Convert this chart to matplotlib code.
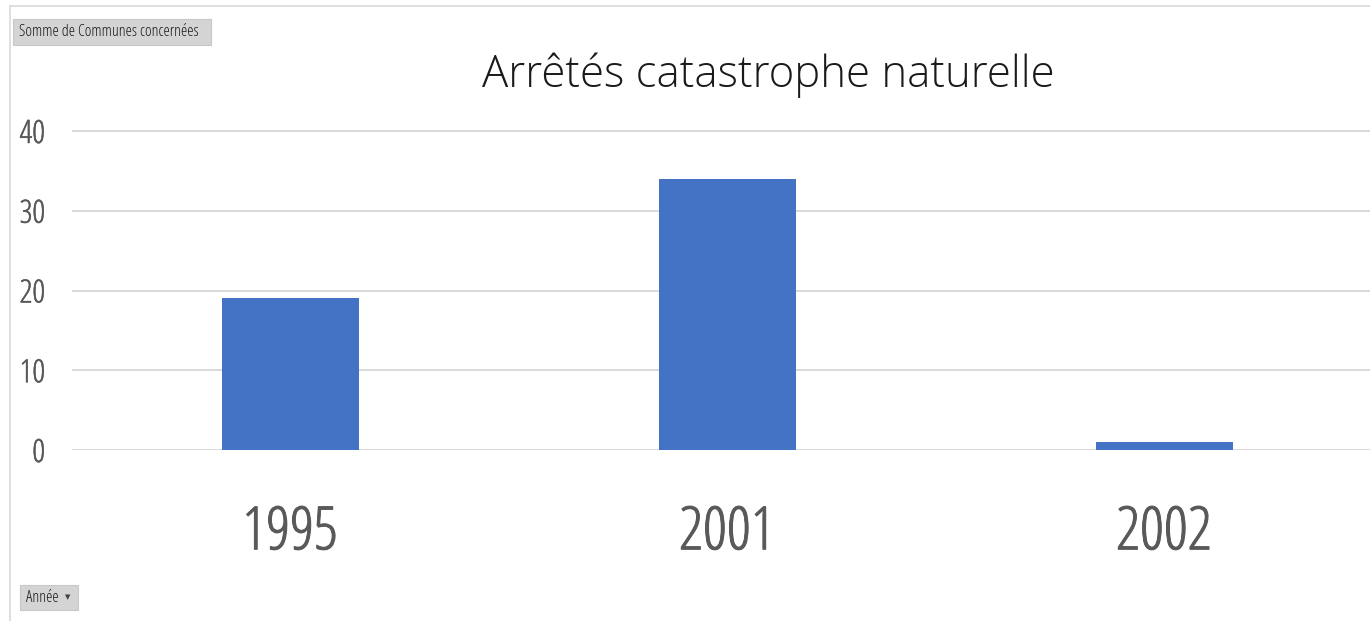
import matplotlib.pyplot as plt
import matplotlib.patheffects as pe
from matplotlib.patches import FancyBboxPatch
from matplotlib.lines import Line2D
import numpy as np

# données
annees = ['1995', '2001', '2002']
communes = [19, 34, 1]
yticks = [0, 10, 20, 30, 40]

W, H = 1370, 621
fig = plt.figure(figsize=(W / 100, H / 100), dpi=100)

# police étroite (Calibri compressé dans l'original)
narrow = dict(family=['Open Sans', 'DejaVu Sans'], fontstretch='condensed', fontweight='light')

# axes placées au pixel près
x0 = 71.5
cat = 437.0
y_zero, y_40 = 450, 131
ymax = 40.4
h_px = (y_zero - y_40) * ymax / 40
ax = fig.add_axes([x0 / W, (H - y_zero) / H, 1 - x0 / W, h_px / H])

x = np.arange(len(annees))
ax.bar(x, communes, width=137 / cat, color='#4472C4', zorder=3)
ax.set_xlim(-0.5, (W - x0) / cat - 0.5)
ax.set_ylim(0, ymax)
ax.set_yticks(yticks)
ax.set_xticks(x)
ax.set_xticklabels(annees)
ax.grid(axis='y', color='#d9d9d9', linewidth=1.4, zorder=0)
for s in ax.spines.values():
    s.set_visible(False)
ax.tick_params(axis='both', length=0, colors='#595959')
ax.tick_params(axis='y', pad=19, labelsize=23)
ax.tick_params(axis='x', pad=38, labelsize=43)
for lab in ax.get_yticklabels():
    lab.set(**narrow)
    lab.set_path_effects([pe.withStroke(linewidth=0.35, foreground='#595959')])
for lab in ax.get_xticklabels():
    lab.set(**narrow)
    lab.set_path_effects([pe.withStroke(linewidth=0.7, foreground='#595959')])

# titre
fig.text(768 / W, 1 - 87 / H, 'Arrêtés catastrophe naturelle', ha='center', va='baseline',
         fontsize=31.5, family=['Open Sans', 'DejaVu Sans'], fontweight='light',
         color='#1a1a1a')

# cadre du graphique
fig.add_artist(Line2D([10 / W, 10 / W], [0, 1 - 6 / H], color='#d9d9d9', lw=1.2))
fig.add_artist(Line2D([10 / W, 1], [1 - 6 / H, 1 - 6 / H], color='#d9d9d9', lw=1.2))

# boutons du tableau croisé
def bouton(x1, y1, x2, y2, texte):
    fig.add_artist(FancyBboxPatch((x1 / W, 1 - y2 / H), (x2 - x1) / W, (y2 - y1) / H,
                                  boxstyle='square,pad=0', facecolor='#d4d4d4',
                                  edgecolor='#c8c8c8', lw=0.8, transform=fig.transFigure))
    fig.text((x1 + 6) / W, 1 - (y1 + y2) / 2 / H, texte, ha='left', va='center',
             fontsize=11.5, color='#1a1a1a', **narrow)

bouton(13, 19, 211, 45, 'Somme de Communes concernées')
bouton(20, 585, 78, 610, 'Année')
fig.text(68 / W, 1 - 597 / H, '▼', ha='center', va='center', fontsize=5,
         family='DejaVu Sans', color='#404040')

fig.savefig('out.png', dpi=100, facecolor='white')
